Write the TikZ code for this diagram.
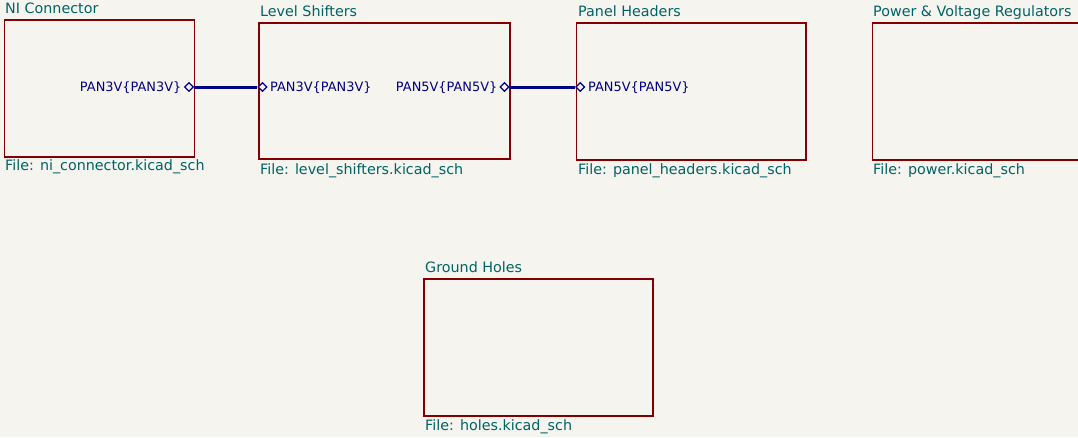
\documentclass[tikz,border=0pt]{standalone}
\usepackage{fontspec}
\setmainfont{DejaVu Sans}
\usetikzlibrary{shapes.geometric}
\definecolor{bg}{RGB}{245,244,239}
\definecolor{sheetred}{RGB}{132,0,0}
\definecolor{teal}{RGB}{0,100,100}
\definecolor{pinblue}{RGB}{0,0,132}
\definecolor{wireblue}{RGB}{0,0,132}
\tikzset{
  sheet/.style={draw=sheetred, line width=1.7pt, rectangle, anchor=north west, inner sep=0pt},
  sheetname/.style={text=teal, font=\fontsize{14.3}{14.3}\selectfont, inner sep=0pt, anchor=base west},
  filename/.style={text=teal, font=\fontsize{14.3}{14.3}\selectfont, inner sep=0pt, anchor=base west},
  pinlabel/.style={text=pinblue, font=\fontsize{12.9}{12.9}\selectfont, inner sep=0pt},
  pinmark/.style={diamond, draw=pinblue, fill=bg, line width=1.2pt, minimum width=9pt, minimum height=9pt, inner sep=0pt, aspect=1},
  wire/.style={draw=wireblue, line width=3pt}
}
\begin{document}
\begin{tikzpicture}[x=1pt,y=-1pt]
\fill[bg] (0,0) rectangle (1078,437);
\useasboundingbox (0,0) rectangle (1078,437);
\clip (0,0) rectangle (1078,437);
% sheets
\node[sheet, minimum width=190pt, minimum height=136.5pt] (ni) at (3.5,19.3) {};
\node[sheet, minimum width=251pt, minimum height=136pt] (ls) at (258,22.3) {};
\node[sheet, minimum width=229.3pt, minimum height=137pt] (ph) at (575.7,22.3) {};
\node[sheet, minimum width=230pt, minimum height=137pt] (pw) at (871.7,22.3) {};
\node[sheet, minimum width=229pt, minimum height=136.7pt] (gh) at (423.3,278.3) {};
% sheet names
\node[sheetname] (niname) at (5,13.5) {NI Connector};
\node[sheetname] (lsname) at (260,16.7) {Level Shifters};
\node[sheetname] (phname) at (578,16.7) {Panel Headers};
\node[sheetname] (pwname) at (873,16.7) {Power \& Voltage Regulators};
\node[sheetname] (ghname) at (425,272.7) {Ground Holes};
% file names
\node[filename] (nifile) at (5,170.7) {File: ni\_connector.kicad\_sch};
\node[filename] (lsfile) at (260,174) {File: level\_shifters.kicad\_sch};
\node[filename] (phfile) at (578,174.3) {File: panel\_headers.kicad\_sch};
\node[filename] (pwfile) at (873,174.3) {File: power.kicad\_sch};
\node[filename] (ghfile) at (425,430) {File: holes.kicad\_sch};
% pins
\node[pinmark] (nip) at (189,87) {};
\node[pinmark] (lsp3) at (262.5,87) {};
\node[pinmark] (lsp5) at (504.5,87) {};
\node[pinmark] (php) at (580.2,87) {};
\node[pinlabel, anchor=base east] (nipl) at (181.5,91.8) {PAN3V\{PAN3V\}};
\node[pinlabel, anchor=base west] (lsp3l) at (270,91.8) {PAN3V\{PAN3V\}};
\node[pinlabel, anchor=base east] (lsp5l) at (497.5,91.8) {PAN5V\{PAN5V\}};
\node[pinlabel, anchor=base west] (phpl) at (588,91.8) {PAN5V\{PAN5V\}};
% wires
\draw[wire] (nip.east) -- (lsp3.west);
\draw[wire] (lsp5.east) -- (php.west);
\end{tikzpicture}
\end{document}
